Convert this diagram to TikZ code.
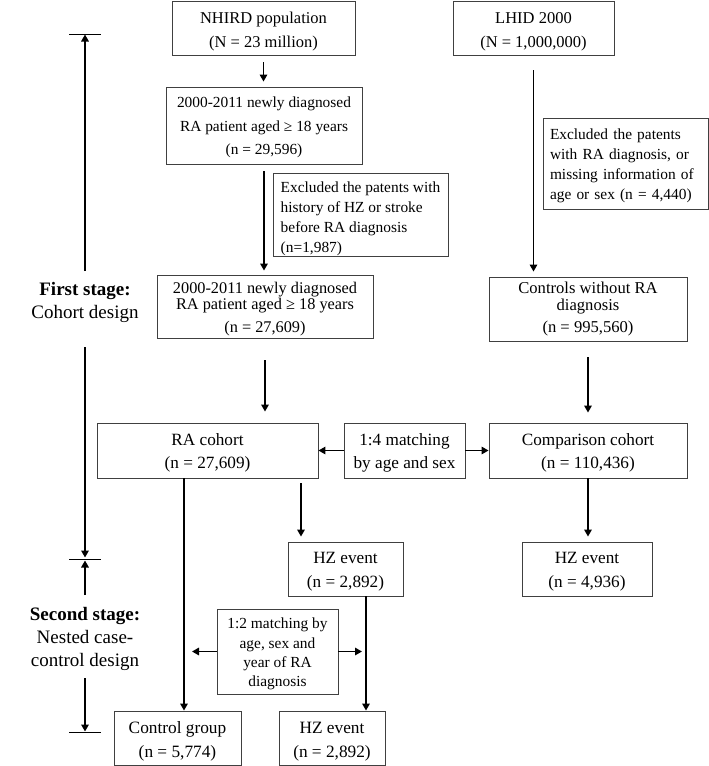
\documentclass[tikz,border=0pt]{standalone}
\usepackage{fontspec}
\setmainfont{Liberation Serif}
\usetikzlibrary{arrows.meta,calc}
\newcommand\pushdown[1]{\rule{0pt}{\dimexpr 0.72em+#1\relax}}
\begin{document}
\begin{tikzpicture}[x=1pt,y=-1pt,
  box/.style={draw=black!75, line width=0.9pt, inner sep=0pt, align=center},
  fa/.style={font=\fontsize{16.5}{24}\selectfont},
  fb/.style={font=\fontsize{15.4}{20}\selectfont},
  fc/.style={font=\fontsize{17.2}{23.5}\selectfont},
  arr/.style={line width=1.6pt, -{Triangle[length=7pt,width=7.5pt]}},
  bar/.style={line width=1pt},
  stage/.style={align=center, inner sep=0pt, font=\fontsize{19}{23}\selectfont}]

\path[fill=white, use as bounding box] (0,0) rectangle (709,766);

% boxes
\node[box, fa, minimum width=183pt, minimum height=54pt] (nhird) at (263.5,28)
  {\pushdown{7pt}NHIRD population\\(N = 23 million)};
\node[box, fa, minimum width=161pt, minimum height=54pt] (lhid) at (533.5,28)
  {\pushdown{7pt}LHID 2000\\(N = 1,000,000)};
\node[box, font=\fontsize{15.4}{24}\selectfont, minimum width=196pt, minimum height=77pt] (ra1) at (264,125.5)
  {\pushdown{3pt}2000-2011 newly diagnosed\\RA patient aged ≥ 18 years\\[-1pt](n = 29,596)};
\node[box, fb, align=left, minimum width=175pt, minimum height=83pt] (excl1) at (360.5,214.5)
  {\pushdown{8pt}Excluded the patents with\\history of HZ or stroke\\before RA diagnosis\\(n=1,987)};
\node[box, fb, align=left, text width=151pt, inner xsep=7pt, minimum height=91pt] (excl2) at (625.5,163.5)
  {\pushdown{5pt}Excluded the patents\\with RA diagnosis, or\\missing information of\\age or sex (n = 4,440)};
\node[box, font=\fontsize{16.3}{16}\selectfont, minimum width=216pt, minimum height=63pt] (ra2) at (265,306.5)
  {\pushdown{4pt}2000-2011 newly diagnosed\\RA patient aged ≥ 18 years\\[7pt](n = 27,609)};
\node[box, font=\fontsize{16.6}{17}\selectfont, minimum width=198pt, minimum height=64pt] (ctrl) at (588,309)
  {Controls without RA\\diagnosis\\[5pt](n = 995,560)};
\node[box, fc, minimum width=221pt, minimum height=55pt] (racoh) at (207.5,450.5)
  {\pushdown{4pt}RA cohort\\(n = 27,609)};
\node[box, fc, minimum width=121pt, minimum height=55pt] (match4) at (404.5,450.5)
  {\pushdown{4pt}1:4 matching\\by age and sex};
\node[box, fc, minimum width=198pt, minimum height=55pt] (comp) at (588,450.5)
  {\pushdown{4pt}Comparison cohort\\(n = 110,436)};
\node[box, font=\fontsize{17.2}{24}\selectfont, minimum width=115pt, minimum height=54pt] (hz1) at (345.5,569)
  {\pushdown{4pt}HZ event\\(n = 2,892)};
\node[box, font=\fontsize{17.2}{24}\selectfont, minimum width=130pt, minimum height=54pt] (hz2) at (587,569)
  {\pushdown{4pt}HZ event\\(n = 4,936)};
\node[box, font=\fontsize{15.4}{19.4}\selectfont, minimum width=121pt, minimum height=85pt] (match2) at (277.5,651.5)
  {\pushdown{5pt}1:2 matching by\\age, sex and\\year of RA\\diagnosis};
\node[box, font=\fontsize{17.3}{24}\selectfont, minimum width=127pt, minimum height=54pt] (ctrlgrp) at (177.5,738)
  {\pushdown{6pt}Control group\\(n = 5,774)};
\node[box, font=\fontsize{17.3}{24}\selectfont, minimum width=106pt, minimum height=54pt] (hz3) at (332,738)
  {\pushdown{6pt}HZ event\\(n = 2,892)};

% stage labels
\node[stage] (s1) at (85,302) {\textbf{First stage:}\\Cohort design};
\node[stage] (s2) at (85,639) {\textbf{Second stage:}\\Nested case-\\control design};

% flow connectors
\draw[arr, shorten <=7pt, shorten >=5pt] (nhird.south) -- (nhird.south |- ra1.north);
\draw[arr, shorten <=7pt, shorten >=4pt] (ra1.south) -- (ra1.south |- ra2.north);
\draw[arr, shorten <=15pt, shorten >=5pt] (lhid.south) -- (lhid.south |- ctrl.north);
\draw[arr, shorten <=22pt, shorten >=11pt] (ra2.south) -- (ra2.south |- racoh.north);
\draw[arr, shorten <=16pt, shorten >=10pt] (ctrl.south) -- (ctrl.south |- comp.north);
\draw[arr] (match4.west) -- (racoh.east);
\draw[arr] (match4.east) -- (comp.west);

\coordinate (p1) at (301,478);
\coordinate (p2) at (184,478);
\coordinate (p3) at (366,596);
\draw[arr, shorten <=5pt, shorten >=5pt] (p1) -- (p1 |- hz1.north);
\draw[arr, shorten >=5pt] (comp.south) -- (comp.south |- hz2.north);
\draw[arr] (p2) -- (p2 |- ctrlgrp.north);
\draw[arr] (p3) -- (p3 |- hz3.north);
\draw[arr, shorten >=8pt] (match2.west) -- (p2 |- match2.west);
\draw[arr, shorten >=4pt] (match2.east) -- (p3 |- match2.east);

% stage markers
\coordinate (tb) at (85,34);
\coordinate (mb) at (85,559);
\coordinate (bb) at (85,732);
\coordinate (s1top) at (85,271);
\coordinate (s1bot) at (85,347);
\coordinate (s2top) at (85,595);
\coordinate (s2bot) at (85,678);
\draw[bar] ([xshift=-16pt]tb) -- ([xshift=16pt]tb);
\draw[bar] ([xshift=-16pt]mb) -- ([xshift=16pt]mb);
\draw[bar] ([xshift=-16pt]bb) -- ([xshift=16pt]bb);
\draw[arr, shorten >=0.5pt] (s1top) -- (tb);
\draw[arr, shorten >=1.5pt] (s1bot) -- (mb);
\draw[arr, shorten >=1.5pt] (s2top) -- (mb);
\draw[arr, shorten >=0.5pt] (s2bot) -- (bb);
\end{tikzpicture}
\end{document}
